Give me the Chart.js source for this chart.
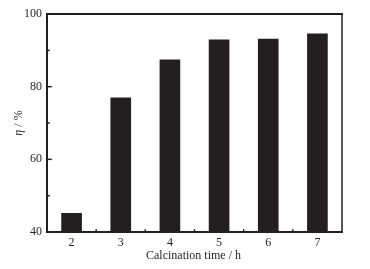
<!DOCTYPE html>
<html><head><meta charset="utf-8">
<script src="https://cdn.jsdelivr.net/npm/chart.js@4/dist/chart.umd.min.js"></script>
<style>html,body{margin:0;padding:0;background:#fff}#wrap{width:370px;height:269px}</style>
</head><body><div id="wrap"><canvas id="c" width="370" height="269"></canvas></div>
<script>
const categories = ['2','3','4','5','6','7'];
const efficiency = [45.2, 77.0, 87.5, 93.0, 93.2, 94.6];
const yTicks = [40, 60, 80, 100];
const yMinorTicks = [50, 70, 90];
const xTitle = 'Calcination time / h';

const FONT = '"Liberation Serif", "Times New Roman", serif';
const ink = '#231f20';

const framePlugin = {
  id: 'frame',
  afterDraw(chart) {
    const {ctx, chartArea: a, scales: {x, y}} = chart;
    ctx.save();
    ctx.strokeStyle = ink;
    ctx.lineCap = 'square';
    ctx.lineWidth = 2;
    ctx.beginPath();
    ctx.moveTo(a.right, a.top); ctx.lineTo(a.left, a.top); ctx.lineTo(a.left, a.bottom); ctx.lineTo(a.right, a.bottom);
    ctx.stroke();
    ctx.lineWidth = 1.5;
    ctx.beginPath(); ctx.moveTo(a.right, a.top); ctx.lineTo(a.right, a.bottom); ctx.stroke();
    ctx.lineWidth = 1.5;
    yTicks.forEach(v => { const py = y.getPixelForValue(v); ctx.beginPath(); ctx.moveTo(a.left, py); ctx.lineTo(a.left + 4, py); ctx.stroke(); });
    yMinorTicks.forEach(v => { const py = y.getPixelForValue(v); ctx.beginPath(); ctx.moveTo(a.left, py); ctx.lineTo(a.left + 2, py); ctx.stroke(); });
    for (let i = 0; i < categories.length - 1; i++) {
      const px = (x.getPixelForValue(i) + x.getPixelForValue(i + 1)) / 2;
      ctx.beginPath(); ctx.moveTo(px, a.bottom); ctx.lineTo(px, a.bottom - 2); ctx.stroke();
    }
    ctx.fillStyle = ink;
    ctx.font = '12px ' + FONT;
    ctx.textAlign = 'center';
    ctx.textBaseline = 'middle';
    ctx.fillText(xTitle, (a.left + a.right) / 2 - 1, 256);
    ctx.translate(19, (a.top + a.bottom) / 2);
    ctx.rotate(-Math.PI / 2);
    ctx.textAlign = 'left';
    const p1 = 'η', p2 = ' / %';
    ctx.font = 'italic 12px ' + FONT;
    const w1 = ctx.measureText(p1).width;
    ctx.font = '12px ' + FONT;
    const w2 = ctx.measureText(p2).width;
    const start = -(w1 + w2) / 2;
    ctx.font = 'italic 12px ' + FONT;
    ctx.fillText(p1, start, 0);
    ctx.font = '12px ' + FONT;
    ctx.fillText(p2, start + w1, 0);
    ctx.restore();
  }
};

new Chart(document.getElementById('c'), {
  type: 'bar',
  data: { labels: categories, datasets: [{ data: efficiency, backgroundColor: ink, borderWidth: 0, barPercentage: 1, categoryPercentage: 0.42 }] },
  options: {
    responsive: false, animation: false, devicePixelRatio: 1,
    layout: { padding: { top: 14, right: 28, left: 0, bottom: 0 } },
    plugins: { legend: { display: false }, tooltip: { enabled: false } },
    scales: {
      x: {
        grid: { display: false, drawTicks: false }, border: { display: false },
        ticks: { color: ink, font: { family: FONT, size: 12 }, padding: 4, maxRotation: 0 },
        afterFit(s) { s.height = 37; }
      },
      y: {
        min: 40, max: 100,
        grid: { display: false, drawTicks: false }, border: { display: false },
        afterBuildTicks(s) { s.ticks = yTicks.map(v => ({ value: v })); },
        ticks: { color: ink, font: { family: FONT, size: 12 }, padding: 5 },
        afterFit(s) { s.width = 47; }
      }
    }
  },
  plugins: [framePlugin]
});
</script></body></html>
